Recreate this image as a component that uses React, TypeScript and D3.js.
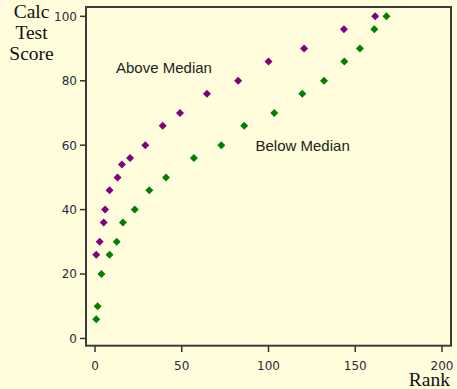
import React, { useEffect, useRef } from "react";
import * as d3 from "d3";

// Rank vs calc test score, two groups
const aboveRank = [0.7, 2.7, 5, 5.8, 8.4, 13, 15.5, 20.2, 29, 39, 49, 64.5, 82.5, 100, 120.5, 143.5, 161.5];
const aboveScore = [26, 30, 36, 40, 46, 50, 54, 56, 60, 66, 70, 76, 80, 86, 90, 96, 100];
const belowRank = [0.7, 1.5, 3.7, 8.4, 12.5, 16.1, 22.9, 31.3, 40.9, 57, 72.8, 86, 103.3, 119.5, 132, 143.7, 152.7, 161, 168];
const belowScore = [6, 10, 20, 26, 30, 36, 40, 46, 50, 56, 60, 66, 70, 76, 80, 86, 90, 96, 100];
const xTicks = [0, 50, 100, 150, 200];
const yTicks = [0, 20, 40, 60, 80, 100];

const W = 457;
const H = 389;
const BG = "#fffddc";

const App = () => {
  const svgRef = useRef<SVGSVGElement>(null);

  useEffect(() => {
    const svg = d3.select(svgRef.current);
    svg.selectAll("*").remove();

    const x = d3.scaleLinear().domain([-5.2, 205.2]).range([86, 451]);
    const y = d3.scaleLinear().domain([-2.25, 102.9]).range([345.7, 7]);

    svg.append("rect").attr("width", W).attr("height", H).attr("fill", BG);

    // frame
    svg
      .append("rect")
      .attr("x", x(-5.2))
      .attr("y", y(102.9))
      .attr("width", x(205.2) - x(-5.2))
      .attr("height", y(-2.25) - y(102.9))
      .attr("fill", "none")
      .attr("stroke", "#3c3c3c")
      .attr("stroke-width", 2);

    // y axis
    const yAxis = svg.append("g");
    yAxis
      .selectAll("line")
      .data(yTicks)
      .enter()
      .append("line")
      .attr("x1", 80)
      .attr("x2", 86)
      .attr("y1", d => y(d))
      .attr("y2", d => y(d))
      .attr("stroke", "#333")
      .attr("stroke-width", 1.5);
    yAxis
      .selectAll("text")
      .data(yTicks)
      .enter()
      .append("text")
      .attr("x", 77)
      .attr("y", d => y(d))
      .attr("dy", "0.36em")
      .attr("text-anchor", "end")
      .style("font-family", "DejaVu Sans, sans-serif")
      .style("font-size", "12px")
      .style("fill", "#2a2a3a")
      .text(d => d);

    // x axis
    const xAxis = svg.append("g");
    xAxis
      .selectAll("line")
      .data(xTicks)
      .enter()
      .append("line")
      .attr("x1", d => x(d))
      .attr("x2", d => x(d))
      .attr("y1", 345.7)
      .attr("y2", 352)
      .attr("stroke", "#333")
      .attr("stroke-width", 1.5);
    xAxis
      .selectAll("text")
      .data(xTicks)
      .enter()
      .append("text")
      .attr("x", d => x(d))
      .attr("y", 369.5)
      .attr("text-anchor", "middle")
      .style("font-family", "DejaVu Sans, sans-serif")
      .style("font-size", "12px")
      .style("fill", "#2a2a3a")
      .text(d => d);

    // axis titles
    const yTitle = svg
      .append("text")
      .attr("text-anchor", "middle")
      .style("font-family", "Liberation Serif, serif")
      .style("font-size", "19.5px")
      .style("fill", "#111");
    ["Calc", "Test", "Score"].forEach((t, i) => {
      yTitle.append("tspan").attr("x", 31.5).attr("y", 18 + i * 21).text(t);
    });
    svg
      .append("text")
      .attr("x", 450)
      .attr("y", 386)
      .attr("text-anchor", "end")
      .style("font-family", "Liberation Serif, serif")
      .style("font-size", "19.5px")
      .style("fill", "#111")
      .text("Rank");

    // points
    const diamond = d3.symbol().type(d3.symbolSquare).size(32);
    const drawPts = (xs: number[], ys: number[], color: string) => {
      svg
        .append("g")
        .selectAll("path")
        .data(xs.map((v, i) => [v, ys[i]]))
        .enter()
        .append("path")
        .attr("d", diamond)
        .attr("transform", d => `translate(${x(d[0])},${y(d[1])}) rotate(45)`)
        .attr("fill", color);
    };
    drawPts(aboveRank, aboveScore, "#800080");
    drawPts(belowRank, belowScore, "#008000");

    // group labels
    const label = (t: string, px: number, py: number) =>
      svg
        .append("text")
        .attr("x", px)
        .attr("y", py)
        .style("font-family", "Liberation Sans, Arial, sans-serif")
        .style("font-size", "15px")
        .style("fill", "#222")
        .text(t);
    label("Above Median", 116, 72.5);
    label("Below Median", 255.5, 151);
  }, []);

  return (
    <svg
      ref={svgRef}
      width={W}
      height={H}
      style={{ position: "absolute", left: 0, top: 0 }}
    ></svg>
  );
};

export default App;
